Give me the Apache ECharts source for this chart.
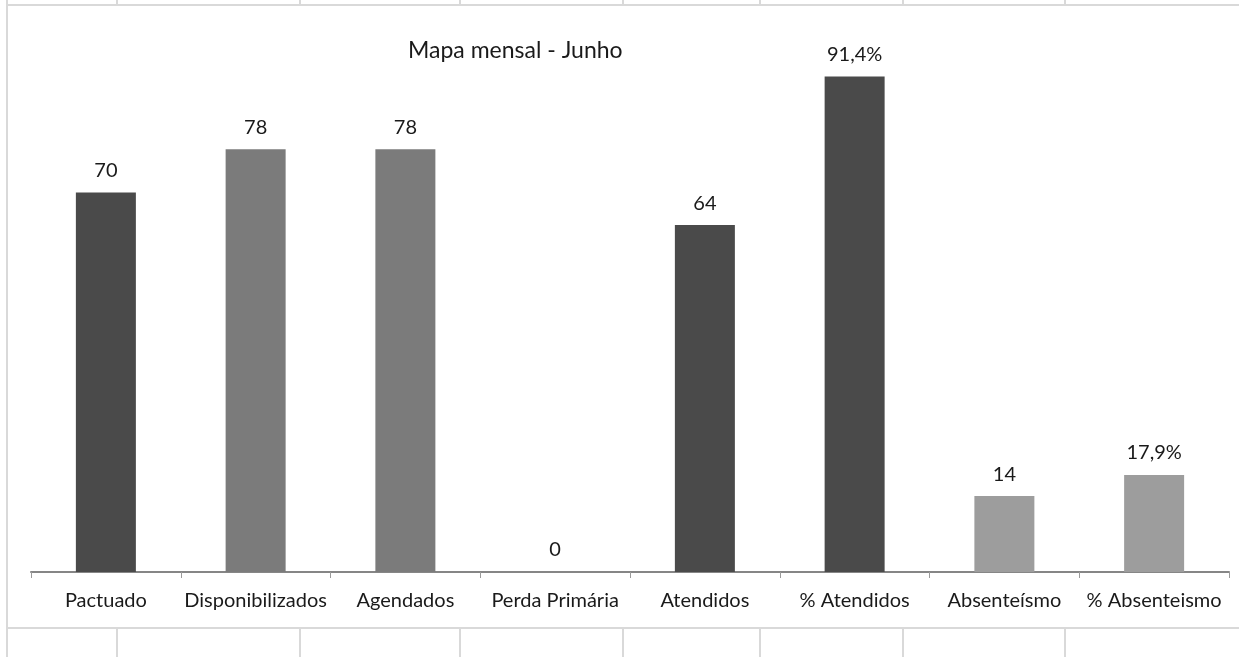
<!DOCTYPE html>
<html>
<head>
<meta charset="utf-8">
<script src="https://cdn.jsdelivr.net/npm/echarts@6/dist/echarts.min.js"></script>
<style>
html,body{margin:0;padding:0;background:#fff;}
#chart{width:1239px;height:657px;}
</style>
</head>
<body>
<div id="chart"></div>
<script>
// ---- data ----
var categories = ['Pactuado', 'Disponibilizados', 'Agendados', 'Perda Primária', 'Atendidos', '% Atendidos', 'Absenteísmo', '% Absenteismo'];
var values = [70, 78, 78, 0, 64, 91.4, 14, 17.9];
var isPercent = [false, false, false, false, false, true, false, true];
var titleText = 'Mapa mensal - Junho';

// ---- styles ----
var barColors = ['#4a4a4a', '#7b7b7b', '#7b7b7b', '#7b7b7b', '#4a4a4a', '#4a4a4a', '#9d9d9d', '#9d9d9d'];
var FONT = 'Lato';
var cellLineX = [117, 300, 460, 623, 760, 903, 1065];

var chart = echarts.init(document.getElementById('chart'));

var graphics = [];
var lineStyle = {stroke: '#d9d9d9', lineWidth: 2};
graphics.push({type: 'line', shape: {x1: 7, y1: 5, x2: 1239, y2: 5}, style: lineStyle, silent: true});
graphics.push({type: 'line', shape: {x1: 7, y1: 628, x2: 1239, y2: 628}, style: lineStyle, silent: true});
graphics.push({type: 'line', shape: {x1: 7, y1: 0, x2: 7, y2: 657}, style: lineStyle, silent: true});
cellLineX.forEach(function (x) {
  graphics.push({type: 'line', shape: {x1: x, y1: 0, x2: x, y2: 5}, style: lineStyle, silent: true});
  graphics.push({type: 'line', shape: {x1: x, y1: 628, x2: x, y2: 657}, style: lineStyle, silent: true});
});

chart.setOption({
  animation: false,
  backgroundColor: '#ffffff',
  title: {
    text: titleText,
    left: 403,
    top: 34,
    textStyle: {fontFamily: FONT, fontSize: 23, fontWeight: 'normal', color: '#1a1a1a'}
  },
  graphic: graphics,
  grid: {left: 31, right: 10, top: 30, bottom: 85},
  xAxis: {
    type: 'category',
    data: categories,
    boundaryGap: true,
    axisLine: {show: true, lineStyle: {color: '#868686', width: 2}},
    axisTick: {show: true, length: 6, lineStyle: {color: '#9a9a9a', width: 1}},
    axisLabel: {fontFamily: FONT, fontSize: 20, color: '#1a1a1a', margin: 19, interval: 0}
  },
  yAxis: {
    type: 'value',
    min: 0,
    max: 100,
    show: false,
    splitLine: {show: false}
  },
  series: [{
    type: 'bar',
    data: values.map(function (v, i) {
      return {value: v, itemStyle: {color: barColors[i]}};
    }),
    barWidth: 60,
    label: {
      show: true,
      position: 'top',
      distance: 12,
      fontFamily: FONT,
      fontSize: 20,
      color: '#1a1a1a',
      formatter: function (p) {
        var v = values[p.dataIndex];
        if (isPercent[p.dataIndex]) {
          return v.toFixed(1).replace('.', ',') + '%';
        }
        return String(v);
      }
    }
  }]
});
</script>
</body>
</html>
